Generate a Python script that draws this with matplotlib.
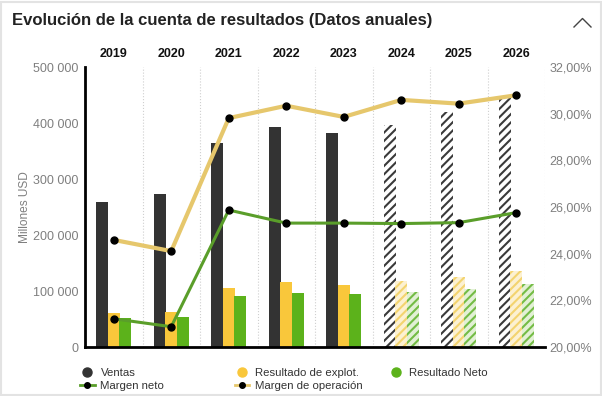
import numpy as np
import matplotlib
matplotlib.use('Agg')
import matplotlib.pyplot as plt
from matplotlib.lines import Line2D
from matplotlib.patches import Rectangle
from matplotlib.ticker import FuncFormatter

plt.rcParams['font.family'] = ['Liberation Sans', 'DejaVu Sans']
plt.rcParams['hatch.linewidth'] = 1.5

# datos (millones USD y %)
years = ['2019', '2020', '2021', '2022', '2023', '2024', '2025', '2026']
ventas = [259000, 273000, 365000, 393000, 383000, 396000, 420000, 447000]
res_explot = [61000, 63000, 105000, 116000, 111000, 118000, 125000, 136000]
res_neto = [52000, 54000, 91000, 96000, 95000, 98000, 104000, 113000]
margen_op = [24.59, 24.11, 29.81, 30.34, 29.86, 30.59, 30.43, 30.79]
margen_neto = [21.21, 20.87, 25.87, 25.31, 25.31, 25.29, 25.33, 25.76]
estimado = [False, False, False, False, False, True, True, True]

W, H = 602, 396
c_dark = '#333333'
c_yel = '#F9C73B'
c_grn = '#5CB21B'
c_line_op = '#E6C76C'
c_line_neto = '#5A9E2A'
c_gray = '#7f7f7f'


def px(x, y):
    # pixeles -> fraccion de figura
    return x / W, 1 - y / H


fig = plt.figure(figsize=(W / 100, H / 100), dpi=100)
ax = fig.add_axes([85 / W, 1 - 347 / H, 460 / W, 280 / H])

x = np.arange(len(years))
bw = 0.21
# (valores, desplazamiento, color real, color rayado, fondo rayado)
series = [(ventas, -0.2, c_dark, '#3a3a3a', 'white'),
          (res_explot, 0.0, c_yel, '#F3D46F', '#FCF1D2'),
          (res_neto, 0.2, c_grn, '#74BC45', '#E2F0D5')]
for vals, off, col, col_h, bg_h in series:
    for i in range(len(years)):
        if estimado[i]:
            ax.bar(x[i] + off, vals[i], bw, color=bg_h, edgecolor=col_h,
                   hatch='////', linewidth=0, zorder=2)
        else:
            ax.bar(x[i] + off, vals[i], bw, color=col, linewidth=0, zorder=2)

ax.set_xlim(-0.5, len(years) - 0.5)
ax.set_ylim(0, 500000)
ax.set_yticks(np.arange(0, 500001, 100000))
ax.yaxis.set_major_formatter(FuncFormatter(lambda v, p: f'{int(v):,}'.replace(',', ' ')))
ax.set_ylabel('Millones USD', color=c_gray, fontsize=8.6, labelpad=1)

ax.xaxis.tick_top()
ax.set_xticks(x)
ax.set_xticklabels(years, fontweight='bold', fontsize=9, color='#111111')
ax.set_xticks(np.arange(0.5, len(years), 1), minor=True)
ax.grid(which='minor', axis='x', color='#cfcfcf', linestyle=':', linewidth=0.8)
ax.tick_params(axis='x', which='both', length=0, pad=5)
ax.tick_params(axis='y', length=0, pad=5, labelsize=9, labelcolor=c_gray)

for s in ['top', 'right']:
    ax.spines[s].set_visible(False)
ax.spines['left'].set_linewidth(2)
ax.spines['bottom'].set_linewidth(2)
ax.spines['left'].set_color('black')
ax.spines['bottom'].set_color('black')

ax2 = ax.twinx()
ax2.set_ylim(20, 32)
ax2.set_yticks(np.arange(20, 33, 2))
ax2.yaxis.set_major_formatter(FuncFormatter(lambda v, p: f'{v:.2f}'.replace('.', ',') + '%'))
ax2.tick_params(axis='y', length=0, pad=3, labelsize=9, labelcolor=c_gray)
for s in ax2.spines.values():
    s.set_visible(False)

ax2.plot(x, margen_op, color=c_line_op, linewidth=3, marker='o', markersize=5,
         markerfacecolor='black', markeredgecolor='black', zorder=3)
ax2.plot(x, margen_neto, color=c_line_neto, linewidth=2.2, marker='o', markersize=5,
         markerfacecolor='black', markeredgecolor='black', zorder=3)

# titulo y flecha
fig.text(*px(12, 21), 'Evolución de la cuenta de resultados (Datos anuales)',
         fontsize=12, fontweight='bold', color='#222222', va='center')
cx, cy = zip(px(574, 27), px(582.5, 18.5), px(591, 27))
fig.add_artist(Line2D(cx, cy, transform=fig.transFigure, color='#444444', linewidth=1))
fig.add_artist(Rectangle((0.002, 0.002), 0.996, 0.993, transform=fig.transFigure,
                         fill=False, edgecolor='#e3e3e3', linewidth=1.5))

# leyenda en columnas
legend_cols = [
    (80, [Line2D([], [], marker='o', linestyle='none', color=c_dark, markersize=6.5),
          Line2D([], [], color=c_line_neto, linewidth=2, marker='o', markersize=4,
                 markerfacecolor='black', markeredgecolor='black')],
     ['Ventas', 'Margen neto']),
    (234.5, [Line2D([], [], marker='o', linestyle='none', color=c_yel, markersize=6.5),
             Line2D([], [], color=c_line_op, linewidth=2, marker='o', markersize=4,
                    markerfacecolor='black', markeredgecolor='black')],
     ['Resultado de explot.', 'Margen de operación']),
    (388.5, [Line2D([], [], marker='o', linestyle='none', color=c_grn, markersize=6.5)],
     ['Resultado Neto']),
]
for xl, handles, labels in legend_cols:
    leg = fig.legend(handles=handles, labels=labels, loc='upper left',
                     bbox_to_anchor=px(xl, 368), frameon=False, fontsize=8.2,
                     borderpad=0, borderaxespad=0, handlelength=1.3,
                     handletextpad=0.5, labelspacing=0.25)
    for t in leg.get_texts():
        t.set_color('#333333')

fig.savefig('out.png', dpi=100)
